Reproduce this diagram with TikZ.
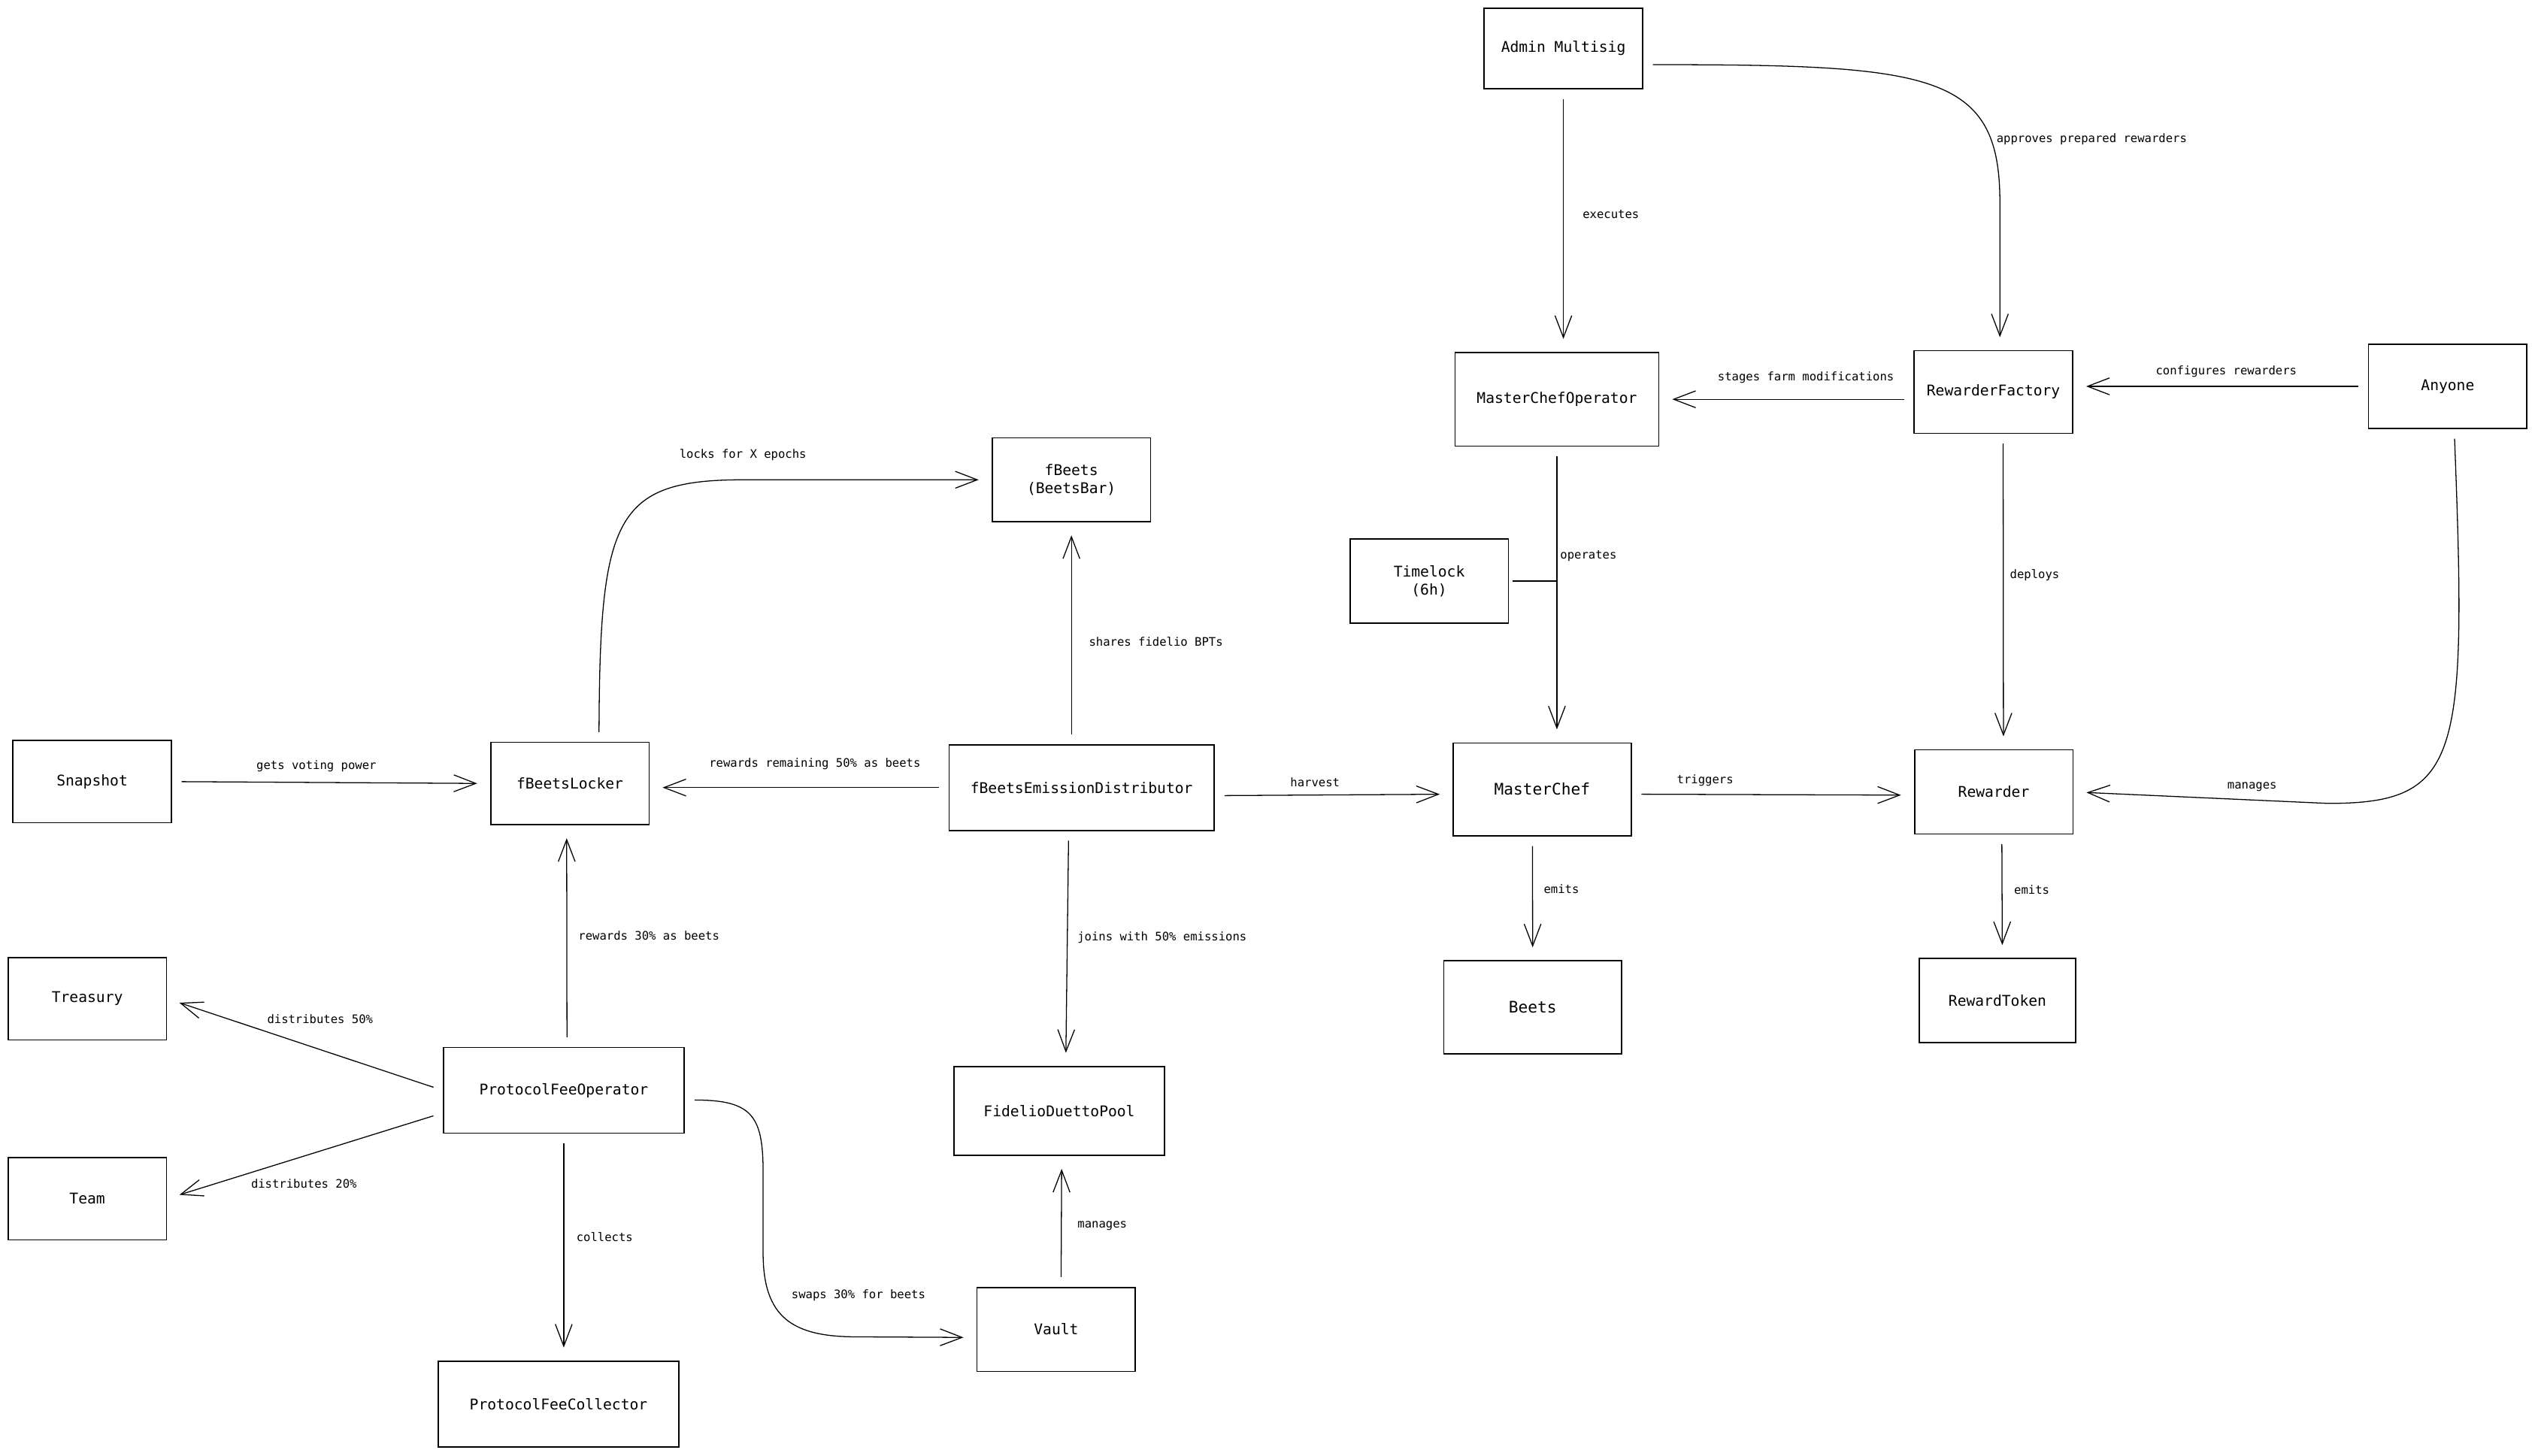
\documentclass[tikz,border=0pt]{standalone}
\usepackage{fontspec}
\setmonofont{DejaVu Sans Mono}
\usetikzlibrary{positioning, arrows.meta, calc}

\tikzset{
  box/.style    = {draw, rectangle, line width=1.1pt,
                   minimum width=4.9cm, minimum height=2.55cm,
                   align=center, inner sep=2pt, fill=white,
                   font=\ttfamily\fontsize{13}{15.6}\selectfont},
  bigbox/.style = {box, font=\ttfamily\fontsize{14}{16.8}\selectfont},
  lbl/.style    = {inner sep=0pt, font=\ttfamily\fontsize{10.3}{12}\selectfont},
  arr/.style    = {-{Straight Barb[length=0.68cm, width=0.52cm]},
                   line width=0.85pt, shorten <=0.3cm, shorten >=0.4cm},
  link/.style   = {line width=0.85pt, shorten <=0.1cm},
}

\begin{document}
\begin{tikzpicture}[x=0.05cm, y=-0.05cm]

\path[use as bounding box, fill=white] (0,0) rectangle (1568,900.3);

% ────────────────────────────────────────────────────────────
%  Grid is the 1568 x 900 canvas, y grows downwards
% ────────────────────────────────────────────────────────────

% ═══════════════════════════════════════════════════════════
%  GOVERNANCE  –  admin, operator, factory
% ═══════════════════════════════════════════════════════════
\node[box, minimum height=2.5cm] (admin) at (967,30) {Admin Multisig};
\node[box, minimum width=6.3cm, minimum height=2.9cm] (mco) at (963,247) {MasterChefOperator};
\node[box] (rf) at (1233,242.5) {RewarderFactory};
\node[box, minimum height=2.6cm] (anyone) at (1514,239) {Anyone};
\node[box, minimum height=2.6cm] (tl) at (884,359.5) {Timelock\\(6h)};

\draw[arr] (admin.south) -- (admin.south |- mco.north);
\node[lbl] (l-exec) at (996.4,132.6) {executes};

\draw[arr] ($(admin.east)+(0,10)$) .. controls (1195,40) and (1237,45) .. (1237,125)
  -- ($(rf.north)+(4,0)$);
\node[lbl] (l-appr) at (1293.8,86) {approves prepared rewarders};

\draw[arr] (rf.west |- mco.east) -- (mco.east);
\node[lbl] (l-stage) at (1117,233.7) {stages farm modifications};

\draw[arr] (anyone.west) -- (anyone.west -| rf.east);
\node[lbl] (l-conf) at (1377,230) {configures rewarders};

% ═══════════════════════════════════════════════════════════
%  EMISSIONS  –  masterchef row
% ═══════════════════════════════════════════════════════════
\node[box, minimum height=2.6cm] (fbeets) at (662.7,296.8) {fBeets\\(BeetsBar)};
\node[box] (snap) at (57,483.5) {Snapshot};
\node[box] (lock) at (352.5,484.7) {fBeetsLocker};
\node[box, minimum width=8.2cm, minimum height=2.65cm] (dist) at (669,487.2) {fBeetsEmissionDistributor};
\node[bigbox, minimum width=5.5cm, minimum height=2.87cm] (mc) at (953.9,488.3) {MasterChef};
\node[box, minimum height=2.6cm] (rw) at (1233.2,489.9) {Rewarder};

\draw[arr]  (mco.south) -- (mco.south |- mc.north);
\draw[link] (tl.east) -- (tl.east -| mco.south);
\node[lbl] (l-oper) at (982.5,344) {operates};

\draw[arr] ($(rf.south)+(6,0)$) -- ($(rw.north)+(6,0)$);
\node[lbl] (l-depl) at (1258.5,355.7) {deploys};

\draw[arr] ($(anyone.south)+(4,0)$) .. controls (1526,470) and (1522,497) .. (1440,497)
  -- (rw.east);
\node[lbl] (l-mgr) at (1393,487) {manages};

\draw[arr] ($(mc.east)+(0,3)$) -- ($(rw.west)+(0,2)$);
\node[lbl] (l-trig) at (1054.7,483) {triggers};

\draw[arr] ($(dist.east)+(0,5)$) -- ($(mc.west)+(0,3)$);
\node[lbl] (l-harv) at (813.4,484) {harvest};

\draw[arr] (dist.west) -- (dist.west -| lock.east);
\node[lbl] (l-remain) at (504,472.7) {rewards remaining 50\% as beets};

\draw[arr] (fbeets.south |- dist.north) -- (fbeets.south);
\node[lbl] (l-share) at (715,396.9) {shares fidelio BPTs};

\draw[arr] ($(lock.north)+(18,0)$) .. controls (371,320) and (380,296.8) .. (460,296.8)
  -- (fbeets.west);
\node[lbl] (l-lock) at (459.5,281.3) {locks for X epochs};

\draw[arr] (snap.east) -- (lock.west);
\node[lbl] (l-vote) at (195.7,474) {gets voting power};

% ═══════════════════════════════════════════════════════════
%  FEES & POOL  –  lower half
% ═══════════════════════════════════════════════════════════
\node[box] (tre) at (54,617.8) {Treasury};
\node[box, minimum width=7.45cm, minimum height=2.65cm] (pfo) at (348.7,674.5) {ProtocolFeeOperator};
\node[bigbox, minimum width=5.5cm, minimum height=2.88cm] (beets) at (948,623.2) {Beets};
\node[box, minimum width=4.85cm, minimum height=2.6cm] (rt) at (1235.5,619) {RewardToken};
\node[box, minimum width=6.5cm, minimum height=2.75cm] (fdp) at (655.2,687.2) {FidelioDuettoPool};
\node[box] (team) at (54,741.5) {Team};
\node[box, minimum height=2.6cm] (vault) at (653.3,822.4) {Vault};
\node[box, minimum width=7.45cm, minimum height=2.65cm] (pfc) at (345.5,868.5) {ProtocolFeeCollector};

\draw[arr] ($(dist.south)+(-8,0)$) -- ($(fdp.north)+(4,0)$);
\node[lbl] (l-join) at (718.8,580) {joins with 50\% emissions};

\draw[arr] ($(mc.south)+(-6,0)$) -- (beets.north);
\node[lbl] (l-emit1) at (965.8,550) {emits};

\draw[arr] ($(rw.south)+(5,0)$) -- ($(rt.north)+(3,0)$);
\node[lbl] (l-emit2) at (1256.7,550.3) {emits};

\draw[arr] ($(pfo.north)+(2,0)$) -- ($(lock.south)+(-2,0)$);
\node[lbl] (l-r30) at (401.4,579) {rewards 30\% as beets};

\draw[arr] (pfo.west) -- (tre.east);
\node[lbl] (l-d50) at (198,630.5) {distributes 50\%};

\draw[arr] ($(pfo.west)+(0,14)$) -- (team.east);
\node[lbl] (l-d20) at (188,732.2) {distributes 20\%};

\draw[arr] (pfo.south) -- (pfo.south |- pfc.north);
\node[lbl] (l-coll) at (374,765) {collects};

\draw[arr] ($(pfo.east)+(0,6)$) .. controls (465,680.5) and (472,690) .. (472,725)
  -- (472,775) .. controls (472,815) and (490,827) .. (530,827)
  -- ($(vault.west)+(0,5)$);
\node[lbl] (l-swap) at (531,801.5) {swaps 30\% for beets};

\draw[arr] ($(vault.north)+(3,0)$) -- ($(fdp.south)+(1.5,0)$);
\node[lbl] (l-mgv) at (681.8,758.3) {manages};

\end{tikzpicture}
\end{document}
